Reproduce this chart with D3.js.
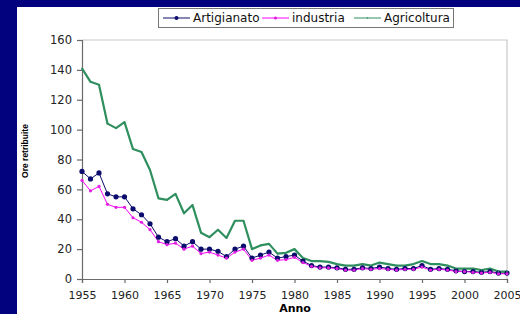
<!DOCTYPE html>
<html>
<head>
<meta charset="utf-8">
<script src="https://cdn.jsdelivr.net/npm/d3@7"></script>
<style>
  body { margin: 0; background: #02027e; }
  svg { display: block; }
</style>
</head>
<body>
<script>
// anni
var years = d3.range(1955, 2006)

var artigianato = [72, 67, 71, 57, 55, 55, 47, 43, 37, 28,
  25, 27, 22, 25, 20, 20, 18.5, 15, 20, 22,
  14, 16, 18, 14, 15, 16, 12, 9, 8, 8,
  7.5, 6.5, 6.5, 7.5, 7, 8, 7, 6.5, 7, 7,
  9, 6.5, 7, 6.5, 5.5, 5, 5, 4.5, 5, 4, 4]

var industria = [66, 59, 62, 50, 48, 48, 41, 38, 33, 25,
  23, 24, 20, 22, 17, 18, 16, 14, 18, 20,
  12.5, 14, 16, 12.5, 13, 14.5, 11, 8.5, 7.5, 7.5,
  7, 6, 6, 7, 6.5, 7, 6.5, 6, 6.5, 6.5,
  8, 6, 6.5, 6, 5, 5, 4.5, 4, 4.5, 3.5, 3.5]

var agricoltura = [141, 132, 130, 104, 101, 105, 87, 85, 73, 54,
  53, 57, 44, 49.5, 31, 28, 33, 27.5, 39, 39,
  20, 22.5, 23.5, 17, 17.5, 20, 14, 12, 12, 11.5,
  10, 9, 9, 10, 9, 11, 10, 9, 9, 10,
  12, 10, 10, 9, 7, 7, 7, 6, 7, 5, 5]

var yTicks = [0, 20, 40, 60, 80, 100, 120, 140, 160]
var xTicks = d3.range(1955, 2006, 5)

var series = [
  {name: "Artigianato", values: artigianato, color: "#0c0c6e", width: 1, r: 2.6, fill: "#0c0c6e"},
  {name: "industria", values: industria, color: "#ff00ff", width: 1, r: 1.6, fill: "#e020e0"},
  {name: "Agricoltura", values: agricoltura, color: "#2f8f5f", width: 2.2, r: 0.8, fill: "#2f8f5f"}
]

var W = 520, H = 314
var svg = d3.select("body").append("svg")
  .attr("width", W)
  .attr("height", H)

// pannello bianco
svg.append("rect")
  .attr("x", 17).attr("y", 7)
  .attr("width", W - 17).attr("height", H - 7)
  .attr("fill", "#ffffff")

var mLeft = 82, mRight = 507, mTop = 40, mBottom = 279

var x = d3.scaleLinear().domain([1955, 2005]).range([mLeft, mRight])
var y = d3.scaleLinear().domain([0, 160]).range([mBottom, mTop])

// bordo area grafico
svg.append("path")
  .attr("d", "M" + mLeft + "," + mTop + "H" + mRight + "V" + mBottom)
  .attr("fill", "none")
  .attr("stroke", "#c8c8c8")
  .attr("stroke-width", 1.2)

var yAxis = svg.append("g")
  .attr("transform", "translate(" + mLeft + ",0)")
  .call(d3.axisLeft(y).tickValues(yTicks).tickSize(5).tickPadding(5))
var xAxis = svg.append("g")
  .attr("transform", "translate(0," + mBottom + ")")
  .call(d3.axisBottom(x).tickValues(xTicks).tickSize(4).tickPadding(8).tickFormat(d3.format("d")))

svg.selectAll(".domain, .tick line").attr("stroke", "#6a6a6a").attr("stroke-width", 1.2)
svg.selectAll(".tick text")
  .attr("fill", "#222")
  .style("font-family", "DejaVu Sans")
  .style("font-size", "11.5px")
xAxis.selectAll(".tick text").style("font-size", "11px")

// linee
var line = d3.line()
  .x(function (d, i) { return x(years[i]) })
  .y(function (d) { return y(d) })

series.forEach(function (s) {
  svg.append("path")
    .datum(s.values)
    .attr("d", line)
    .attr("fill", "none")
    .attr("stroke", s.color)
    .attr("stroke-width", s.width)
    .attr("stroke-linejoin", "round")
})

series.forEach(function (s) {
  svg.append("g").selectAll("circle")
    .data(s.values)
    .enter()
    .append("circle")
    .attr("cx", function (d, i) { return x(years[i]) })
    .attr("cy", function (d) { return y(d) })
    .attr("r", s.r)
    .attr("fill", s.fill)
})

// titoli assi
svg.append("text")
  .attr("transform", "translate(28,151) rotate(-90)")
  .attr("text-anchor", "middle")
  .style("font-family", "Liberation Sans")
  .style("font-weight", "bold")
  .style("font-size", "8.5px")
  .text("Ore retribuite")

svg.append("text")
  .attr("x", 295).attr("y", 312)
  .attr("text-anchor", "middle")
  .style("font-family", "DejaVu Sans")
  .style("font-weight", "bold")
  .style("font-size", "11px")
  .text("Anno")

// legenda
var legend = svg.append("g")
legend.append("rect")
  .attr("x", 158.5).attr("y", 8.5)
  .attr("width", 295).attr("height", 19)
  .attr("fill", "#ffffff")
  .attr("stroke", "#777")
var legX = [163, 262, 354]
series.forEach(function (s, i) {
  var g = legend.append("g").attr("transform", "translate(" + legX[i] + ",18)")
  g.append("line")
    .attr("x1", 0).attr("x2", 27)
    .attr("stroke", s.color).attr("stroke-width", 1)
  g.append("circle")
    .attr("cx", 13.5).attr("r", Math.min(s.r, 2)).attr("fill", s.fill)
  g.append("text")
    .attr("x", 30).attr("y", 4.3)
    .style("font-family", "DejaVu Sans")
    .style("font-size", "12px")
    .attr("fill", "#111")
    .text(s.name)
})
</script>
</body>
</html>
